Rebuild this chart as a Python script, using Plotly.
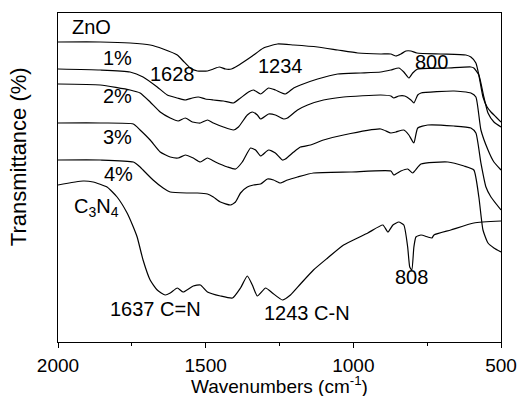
import plotly.graph_objects as go

# ---- data (wavenumber in cm^-1, transmittance in arbitrary offset units) ----
zno_wn = [2000, 1857, 1756, 1688, 1644, 1596, 1576, 1552, 1528, 1494, 1474, 1454, 1433, 1413, 1393, 1372, 1342, 1304, 1257, 1202, 1121, 1053, 985, 907, 873, 856, 839, 822, 805, 785, 704, 619, 602, 585, 575, 561, 547, 534, 517, 500]
zno_t = [300, 300, 299, 297, 293, 287, 281, 274, 271, 271, 273, 275, 273, 273, 276, 280, 286, 294, 298, 297, 295, 292, 289, 288, 288, 286, 288, 291, 291, 289, 288, 287, 285, 279, 267, 245, 235, 230, 225, 220]

p1_wn = [2000, 1857, 1756, 1712, 1664, 1630, 1596, 1569, 1545, 1525, 1501, 1474, 1440, 1406, 1382, 1355, 1338, 1314, 1287, 1264, 1230, 1202, 1179, 1121, 1053, 975, 907, 873, 846, 829, 812, 799, 782, 680, 602, 592, 575, 558, 544, 524, 500]
p1_t = [273, 272, 270, 265, 255, 247, 244, 242, 244, 245, 243, 242, 241, 239, 244, 250, 252, 248, 254, 252, 248, 254, 257, 263, 268, 269, 270, 272, 274, 270, 264, 269, 273, 274, 275, 274, 267, 245, 229, 220, 215]

p2_wn = [2000, 1857, 1756, 1722, 1688, 1654, 1620, 1593, 1569, 1545, 1518, 1494, 1474, 1440, 1406, 1389, 1359, 1342, 1325, 1314, 1287, 1264, 1236, 1223, 1189, 1155, 1101, 1033, 907, 873, 863, 846, 826, 805, 795, 782, 771, 659, 602, 585, 568, 544, 524, 500]
p2_t = [258, 257, 252, 249, 240, 230, 224, 221, 224, 220, 219, 222, 219, 215, 212, 215, 227, 230, 227, 223, 228, 227, 223, 224, 232, 237, 242, 245, 247, 246, 244, 246, 246, 242, 239, 247, 249, 251, 249, 245, 212, 192, 180, 172]

p3_wn = [2000, 1857, 1745, 1722, 1688, 1654, 1620, 1593, 1569, 1542, 1518, 1494, 1467, 1426, 1399, 1376, 1348, 1331, 1314, 1287, 1264, 1240, 1230, 1202, 1179, 1145, 1101, 1033, 907, 873, 856, 829, 812, 795, 782, 748, 659, 602, 585, 568, 551, 534, 500]
p3_t = [219, 219, 218, 212, 202, 190, 185, 184, 187, 184, 180, 184, 180, 175, 173, 180, 194, 192, 186, 192, 189, 182, 183, 190, 195, 197, 202, 207, 213, 209, 210, 212, 207, 199, 214, 217, 216, 214, 209, 179, 155, 145, 132]

p4_wn = [2000, 1857, 1745, 1722, 1712, 1678, 1644, 1620, 1562, 1528, 1494, 1474, 1450, 1416, 1399, 1382, 1359, 1338, 1314, 1291, 1270, 1247, 1223, 1189, 1135, 1009, 873, 863, 839, 816, 799, 771, 680, 625, 592, 575, 561, 544, 524, 500]
p4_t = [182, 182, 180, 175, 172, 162, 154, 150, 149, 149, 148, 145, 140, 137, 140, 149, 155, 157, 158, 163, 162, 159, 162, 165, 169, 170, 171, 167, 171, 173, 169, 178, 180, 176, 172, 145, 112, 99, 94, 90]

cn_wn = [2000, 1915, 1881, 1834, 1800, 1766, 1745, 1732, 1712, 1688, 1664, 1637, 1620, 1596, 1576, 1542, 1518, 1494, 1450, 1409, 1382, 1359, 1342, 1325, 1297, 1274, 1240, 1213, 1179, 1135, 1087, 1033, 951, 900, 883, 866, 846, 829, 816, 809, 802, 795, 788, 771, 748, 734, 727, 670, 592, 500]
cn_t = [157, 161, 160, 155, 145, 129, 115, 105, 82, 62, 52, 47, 49, 54, 50, 56, 57, 50, 46, 44, 54, 66, 57, 46, 54, 49, 42, 47, 58, 72, 84, 97, 109, 117, 110, 117, 120, 117, 95, 75, 72, 95, 105, 107, 105, 104, 107, 112, 119, 121]

x_ticks = [2000, 1500, 1000, 500]

FONT = "Liberation Sans, Arial, sans-serif"
FS = 20

fig = go.Figure()
for wn, t in [(zno_wn, zno_t), (p1_wn, p1_t), (p2_wn, p2_t), (p3_wn, p3_t), (p4_wn, p4_t), (cn_wn, cn_t)]:
    fig.add_trace(go.Scatter(x=wn, y=t, mode="lines", line=dict(color="black", width=1.2, shape="spline", smoothing=0.5), showlegend=False, hoverinfo="skip"))

labels = [
    ("ZnO", 1885, 315),
    ("1%", 1800, 284),
    ("1628", 1613, 268),
    ("1234", 1247, 276),
    ("800", 737, 280),
    ("2%", 1800, 246),
    ("3%", 1800, 205),
    ("4%", 1796, 168),
    ("C<sub>3</sub>N<sub>4</sub>", 1868, 135),
    ("1637 C=N", 1671, 33),
    ("1243 C-N", 1158, 29),
    ("808", 802, 65),
]
for txt, x, y in labels:
    fig.add_annotation(x=x, y=y, xref="x", yref="y", text=txt, showarrow=False,
                       font=dict(family=FONT, size=FS, color="black"), xanchor="center", yanchor="middle")

fig.add_annotation(x=0.5, y=-0.13, xref="paper", yref="paper", text="Wavenumbers (cm<sup>-1</sup>)",
                   showarrow=False, font=dict(family=FONT, size=19, color="black"), xanchor="center", yanchor="middle")
fig.add_annotation(x=-0.09, y=0.562, xref="paper", yref="paper", text="Transmittance (%)", textangle=-90,
                   showarrow=False, font=dict(family=FONT, size=22, color="black"), xanchor="center", yanchor="middle")

fig.update_layout(
    width=517, height=396,
    margin=dict(l=58, r=16, t=13, b=54, autoexpand=False),
    paper_bgcolor="white", plot_bgcolor="white",
    font=dict(family=FONT, size=FS, color="black"),
    xaxis=dict(range=[2000, 500], tickvals=x_ticks, ticktext=[str(v) for v in x_ticks],
               ticks="outside", ticklen=5, tickwidth=1.2, tickcolor="black", automargin=False,
               ticklabeloverflow="allow", ticklabelstandoff=1,
               minor=dict(ticks="outside", ticklen=3, tickwidth=1.2, tickcolor="black", dtick=250, tick0=500),
               showline=True, linecolor="black", linewidth=1.3, mirror=True, showgrid=False, zeroline=False,
               tickfont=dict(family=FONT, size=19, color="black")),
    yaxis=dict(range=[0, 329], showticklabels=False, ticks="", showline=True, linecolor="black", automargin=False,
               linewidth=1.3, mirror=True, showgrid=False, zeroline=False),
)

fig.write_html("out.html")
